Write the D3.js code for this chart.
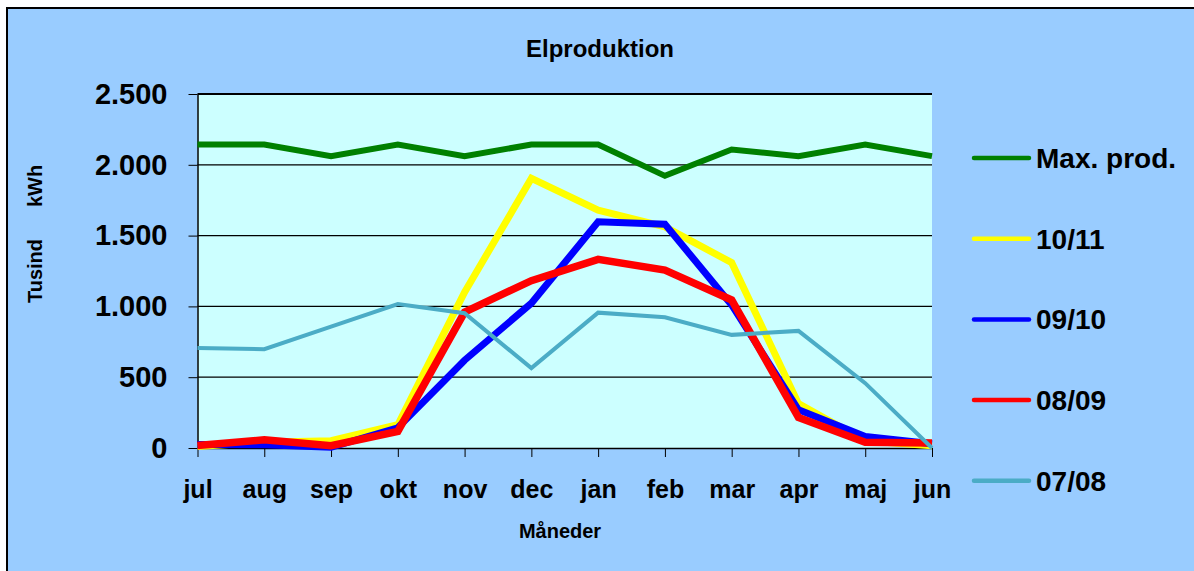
<!DOCTYPE html>
<html>
<head>
<meta charset="utf-8">
<script src="https://cdn.jsdelivr.net/npm/d3@7"></script>
<style>
  body { margin: 0; background: #fff; }
  svg { display: block; font-family: 'Liberation Sans', Arial, sans-serif; }
  .axis path, .axis line { stroke: #000; }
  .axis text { font-weight: bold; fill: #000; }
</style>
</head>
<body>
<svg id="chart" width="1194" height="571"></svg>
<script>
// months (x categories)
const months = ['jul', 'aug', 'sep', 'okt', 'nov', 'dec', 'jan', 'feb', 'mar', 'apr', 'maj', 'jun'];
const yTicks = [0, 500, 1000, 1500, 2000, 2500];

// series values, thousand kWh
const maxProd = [2143, 2143, 2061, 2143, 2061, 2143, 2143, 1922, 2108, 2061, 2143, 2061];
const y1011 = [10, 40, 51, 164, 1100, 1904, 1680, 1562, 1309, 313, 50, 15];
const y0910 = [25, 23, 5, 143, 620, 1022, 1597, 1581, 1010, 270, 82, 30];
const y0809 = [18, 58, 16, 117, 960, 1182, 1332, 1257, 1045, 216, 40, 35];
const y0708 = [707, 698, 857, 1017, 952, 564, 956, 923, 799, 827, 458, 0];

const seriesNames = ['Max. prod.', '10/11', '09/10', '08/09', '07/08'];
const seriesData = [maxProd, y1011, y0910, y0809, y0708];
const colors = ['#008000', '#ffff00', '#0000ff', '#ff0000', '#4bacc6'];
const widths = [6, 7, 7, 7.5, 4];

const svg = d3.select('#chart');

// outer chart area
svg.append('rect')
    .attr('x', 7).attr('y', 8)
    .attr('width', 1200).attr('height', 580)
    .attr('fill', '#99ccff')
    .attr('stroke', '#000')
    .attr('stroke-width', 2);

const plotLeft = 197.5, plotRight = 932, plotTop = 94, plotBottom = 448;

svg.append('rect')
    .attr('x', plotLeft).attr('y', plotTop)
    .attr('width', plotRight - plotLeft).attr('height', plotBottom - plotTop)
    .attr('fill', '#ccffff');

const x = d3.scalePoint().domain(months).range([plotLeft, plotRight]);
const y = d3.scaleLinear().domain([0, 2500]).range([plotBottom, plotTop]);

const locale = d3.formatLocale({decimal: ',', thousands: '.', grouping: [3], currency: ['', '']});
const fmt = locale.format(',');

// gridlines
svg.append('g')
    .selectAll('line')
    .data(yTicks.filter((d) => d > 0))
    .enter()
    .append('line')
    .attr('x1', plotLeft).attr('x2', plotRight)
    .attr('y1', (d) => y(d)).attr('y2', (d) => y(d))
    .attr('stroke', '#000')
    .attr('stroke-width', (d) => d === 2500 ? 2 : 1.2);

// y axis
const yAxis = svg.append('g')
    .attr('class', 'axis')
    .attr('transform', `translate(${plotLeft},0)`)
    .call(d3.axisLeft(y).tickValues(yTicks).tickFormat(fmt).tickSize(9).tickSizeOuter(0).tickPadding(21));
yAxis.selectAll('text').style('font-size', '29px');
yAxis.select('.domain').attr('stroke-width', 1.5);

// x axis
const xAxis = svg.append('g')
    .attr('class', 'axis')
    .attr('transform', `translate(0,${plotBottom})`)
    .call(d3.axisBottom(x).tickSize(9).tickSizeOuter(0).tickPadding(23));
xAxis.selectAll('text').style('font-size', '25px');
xAxis.select('.domain').attr('stroke-width', 1.5);

// lines
const line = d3.line()
    .x((d, i) => x(months[i]))
    .y((d) => y(d));

svg.append('g')
    .selectAll('path')
    .data(seriesData)
    .enter()
    .append('path')
    .attr('d', line)
    .attr('fill', 'none')
    .attr('stroke', (d, i) => colors[i])
    .attr('stroke-width', (d, i) => widths[i])
    .attr('stroke-linejoin', 'miter');

// title
svg.append('text')
    .attr('x', 600).attr('y', 57)
    .attr('text-anchor', 'middle')
    .style('font-size', '24px')
    .style('font-weight', 'bold')
    .text('Elproduktion');

// axis titles
svg.append('text')
    .attr('x', 560).attr('y', 538)
    .attr('text-anchor', 'middle')
    .style('font-size', '20px')
    .style('font-weight', 'bold')
    .text('Måneder');

const yTitle = svg.append('g')
    .attr('transform', 'translate(42,235) rotate(-90)');
yTitle.append('text')
    .attr('x', -36).attr('y', 0)
    .attr('text-anchor', 'middle')
    .style('font-size', '20px')
    .style('font-weight', 'bold')
    .text('Tusind');
yTitle.append('text')
    .attr('x', 49).attr('y', 0)
    .attr('text-anchor', 'middle')
    .style('font-size', '20px')
    .style('font-weight', 'bold')
    .text('kWh');

// legend
const legend = svg.append('g')
    .selectAll('g')
    .data(seriesNames)
    .enter()
    .append('g')
    .attr('transform', (d, i) => `translate(974,${158 + i * 80.7})`);

legend.append('line')
    .attr('x1', 0).attr('x2', 55)
    .attr('stroke', (d, i) => colors[i])
    .attr('stroke-width', 4.5)
    .attr('stroke-linecap', 'round');

legend.append('text')
    .attr('x', 62)
    .attr('dy', '0.36em')
    .style('font-size', '28px')
    .style('font-weight', 'bold')
    .text((d) => d);
</script>
</body>
</html>
